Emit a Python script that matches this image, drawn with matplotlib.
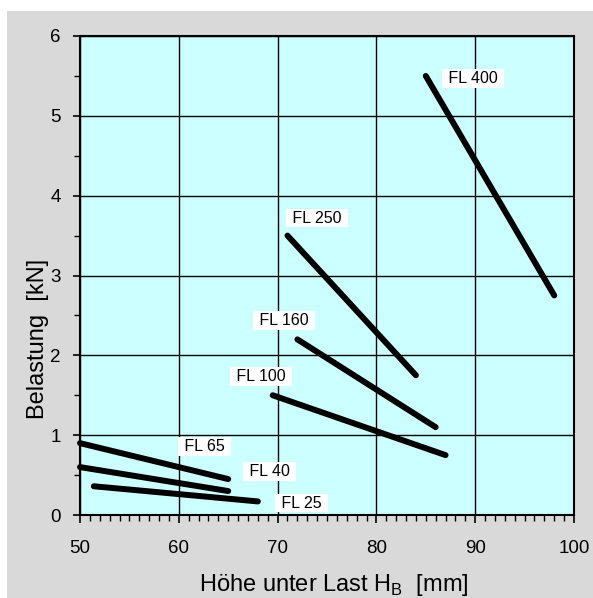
import matplotlib
matplotlib.use("Agg")
import matplotlib.pyplot as plt
from matplotlib.patches import Rectangle
from matplotlib.ticker import MultipleLocator

plt.rcParams['font.family'] = ['Liberation Sans', 'DejaVu Sans']

series_names = ["FL 400", "FL 250", "FL 160", "FL 100", "FL 65", "FL 40", "FL 25"]
x_start = [85.0, 71.0, 72.0, 69.5, 50.0, 50.0, 51.4]
y_start = [5.5, 3.5, 2.2, 1.5, 0.9, 0.6, 0.36]
x_end = [98.0, 84.0, 86.0, 87.0, 65.0, 65.0, 68.0]
y_end = [2.75, 1.75, 1.1, 0.75, 0.45, 0.3, 0.17]
label_x = [87.3, 71.5, 68.2, 65.8, 60.6, 67.1, 70.4]
label_y = [5.47, 3.72, 2.44, 1.74, 0.86, 0.54, 0.15]

x_ticks = [50, 60, 70, 80, 90, 100]
y_ticks = [0, 1, 2, 3, 4, 5, 6]

W, H = 593, 598
fig = plt.figure(figsize=(W / 100, H / 100), dpi=100)
fig.patch.set_facecolor("white")
fig.patches.append(Rectangle((7 / W, 0), 1 - 7 / W, 1 - 11 / H, transform=fig.transFigure,
                             facecolor="#d9d9d9", edgecolor="none", zorder=-10))

left, right, top, bottom = 80, 574, 36, 515
ax = fig.add_axes([left / W, 1 - bottom / H, (right - left) / W, (bottom - top) / H])
ax.set_facecolor("#ccffff")
ax.set_xlim(50, 100)
ax.set_ylim(0, 6)
ax.set_xticks(x_ticks)
ax.set_yticks(y_ticks)
ax.xaxis.set_minor_locator(MultipleLocator(1))
ax.yaxis.set_minor_locator(MultipleLocator(0.5))
ax.grid(True, which="major", color="black", linewidth=1.0)
ax.set_axisbelow(True)
for s in ax.spines.values():
    s.set_linewidth(1.5)
    s.set_color("black")
ax.tick_params(axis="x", which="major", direction="out", length=6, width=1.2, pad=12, labelsize=13.5)
ax.tick_params(axis="x", which="minor", direction="out", length=4, width=1.0)
ax.tick_params(axis="y", which="major", direction="out", length=5, width=1.2, pad=9, labelsize=13.5)
ax.tick_params(axis="y", which="minor", direction="out", length=4, width=1.0)

for i, name in enumerate(series_names):
    ax.plot([x_start[i], x_end[i]], [y_start[i], y_end[i]], color="black",
            linewidth=4.3, solid_capstyle="round", clip_on=False, zorder=3)
    ax.text(label_x[i] - 0.45, label_y[i], " " + name + " ", fontsize=11.5, ha="left", va="center",
            zorder=4, bbox=dict(boxstyle="square,pad=0.12", facecolor="white", edgecolor="none"))

ax.set_xlabel("Höhe unter Last H$_\\mathregular{B}$  [mm]", fontsize=17, labelpad=10.5)
ax.set_ylabel("Belastung  [kN]", fontsize=17, labelpad=0.5)
ax.xaxis.label.set_x(0.514)
ax.yaxis.label.set_y(0.367)

fig.savefig("out.png", dpi=100, facecolor=fig.get_facecolor())
